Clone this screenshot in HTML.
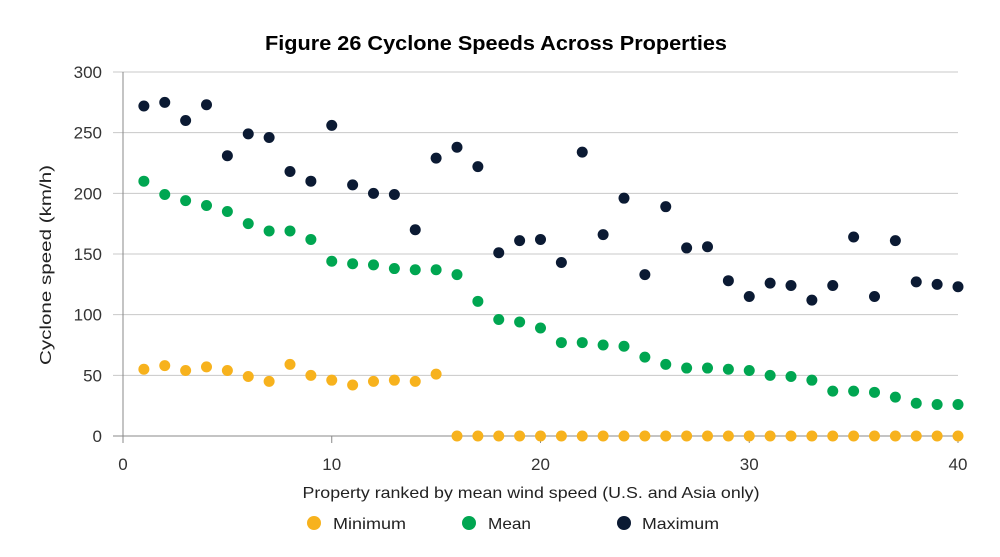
<!DOCTYPE html>
<html><head><meta charset="utf-8">
<style>
body{margin:0;background:#fff;width:1000px;height:552px;overflow:hidden;font-family:"Liberation Sans",sans-serif}
</style></head>
<body>
<svg id="chart" width="1000" height="552" viewBox="0 0 1000 552" xmlns="http://www.w3.org/2000/svg">
<text x="496" y="50" text-anchor="middle" font-size="20" font-weight="bold" fill="#000" textLength="462" lengthAdjust="spacingAndGlyphs">Figure 26 Cyclone Speeds Across Properties</text>
<g id="grid"></g><g id="axes"></g><g id="marks"></g>
<text transform="translate(51,265) rotate(-90)" text-anchor="middle" font-size="16" fill="#222" textLength="200" lengthAdjust="spacingAndGlyphs">Cyclone speed (km/h)</text>
<text x="531" y="498" text-anchor="middle" font-size="16" fill="#222" textLength="457" lengthAdjust="spacingAndGlyphs">Property ranked by mean wind speed (U.S. and Asia only)</text>
<g>
<circle cx="314" cy="523" r="7" fill="#f7b21d"/>
<text x="333" y="529" font-size="16" fill="#222" textLength="73" lengthAdjust="spacingAndGlyphs">Minimum</text>
<circle cx="469" cy="523" r="7" fill="#00a651"/>
<text x="488" y="529" font-size="16" fill="#222" textLength="43" lengthAdjust="spacingAndGlyphs">Mean</text>
<circle cx="624" cy="523" r="7" fill="#0b1a33"/>
<text x="642" y="529" font-size="16" fill="#222" textLength="77" lengthAdjust="spacingAndGlyphs">Maximum</text>
</g>
</svg>
<script>
const properties=[1,2,3,4,5,6,7,8,9,10,11,12,13,14,15,16,17,18,19,20,21,22,23,24,25,26,27,28,29,30,31,32,33,34,35,36,37,38,39,40];
const maximumValues=[272,275,260,273,231,249,246,218,210,256,207,200,199,170,229,238,222,151,161,162,143,234,166,196,133,189,155,156,128,115,126,124,112,124,164,115,161,127,125,123];
const meanValues=[210,199,194,190,185,175,169,169,162,144,142,141,138,137,137,133,111,96,94,89,77,77,75,74,65,59,56,56,55,54,50,49,46,37,37,36,32,27,26,26];
const minimumValues=[55,58,54,57,54,49,45,59,50,46,42,45,46,45,51,0,0,0,0,0,0,0,0,0,0,0,0,0,0,0,0,0,0,0,0,0,0,0,0,0];
const yTicks=[0,50,100,150,200,250,300];
const xTicks=[0,10,20,30,40];
const NS="http://www.w3.org/2000/svg";
const x=v=>123+v*(958-123)/40;
const y=v=>436-v*(436-72)/300;
function mk(tag,attrs,parent){const e=document.createElementNS(NS,tag);for(const k in attrs)e.setAttribute(k,attrs[k]);parent.appendChild(e);return e;}
const grid=document.getElementById('grid'),axes=document.getElementById('axes'),marks=document.getElementById('marks');
yTicks.forEach(t=>{
  const l=mk('line',{x1:113,x2:958,y1:y(t),y2:y(t),stroke:t===0?'#888':'#c8c8c8','stroke-width':1},grid);
  
  
  const tx=mk('text',{x:102,y:y(t)+6,'text-anchor':'end','font-size':17,fill:'#333'},axes);
  tx.textContent=t;
  
  
});
mk('line',{x1:123,x2:123,y1:72,y2:436,stroke:'#888','stroke-width':1},axes);
xTicks.forEach(t=>{
  const tk=mk('line',{x1:x(t),x2:x(t),y1:436,y2:443,stroke:'#888'},axes);
  
  
  const tx=mk('text',{x:x(t),y:470,'text-anchor':'middle','font-size':17,fill:'#333'},axes);
  tx.textContent=t;
  
  
});
function series(vals,color,name){
  vals.forEach((v,i)=>{
    const c=mk('circle',{cx:x(properties[i]),cy:y(v),r:5.5,fill:color},marks);
    
    
  });
}
series(minimumValues,'#f7b21d','minimum');
series(meanValues,'#00a651','mean');
series(maximumValues,'#0b1a33','maximum');
</script>
</body></html>
